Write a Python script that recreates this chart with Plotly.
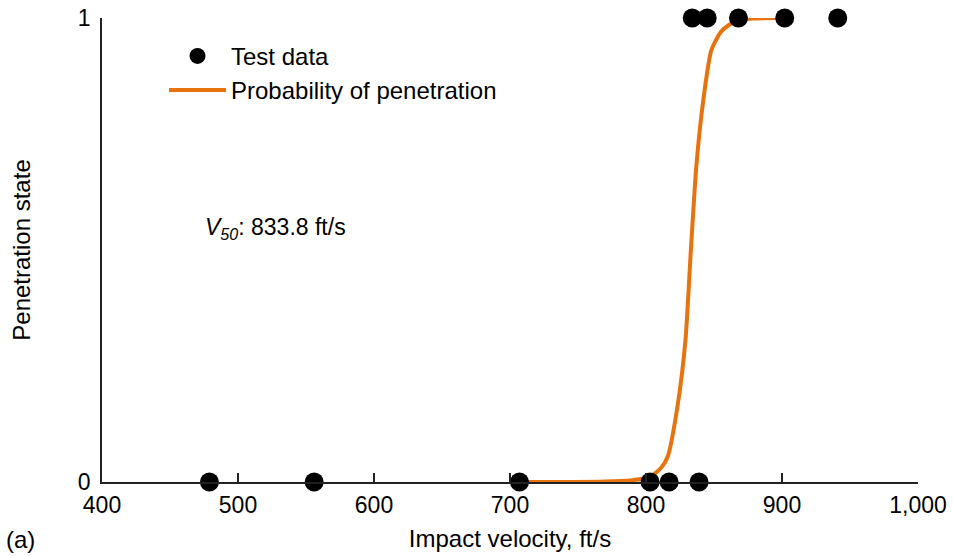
import plotly.graph_objects as go

# Test data (impact velocity, ft/s ; penetration state)
test_velocity = [479, 556, 707, 803, 817, 839, 834, 845, 868, 902, 941]
test_state = [0, 0, 0, 0, 0, 0, 1, 1, 1, 1, 1]

# Probability of penetration curve
curve_velocity = [700, 740, 770, 790, 800, 805, 811, 816, 823, 829, 833, 837, 842, 848, 855, 861, 868, 878, 897]
curve_prob = [0.0, 0.0, 0.001, 0.004, 0.008, 0.015, 0.03, 0.055, 0.16, 0.305, 0.50, 0.68, 0.82, 0.93, 0.97, 0.985, 0.995, 0.999, 1.0]

x_ticks = [400, 500, 600, 700, 800, 900, 1000]
y_ticks = [0, 1]

FONT = "Liberation Sans, Arial, sans-serif"
ORANGE = "#E8730E"

fig = go.Figure()
fig.add_trace(go.Scatter(
    x=curve_velocity, y=curve_prob, mode="lines", name="Probability of penetration",
    line=dict(color=ORANGE, width=4, shape="spline", smoothing=0.6),
    legendgroup="b", legendrank=2, cliponaxis=False,
))
fig.add_trace(go.Scatter(
    x=test_velocity, y=test_state, mode="markers", name="Test data",
    marker=dict(color="black", size=19),
    legendgroup="a", legendrank=1, cliponaxis=False,
))

fig.update_layout(
    width=953, height=556,
    margin=dict(l=102, r=35, t=18, b=74),
    paper_bgcolor="white", plot_bgcolor="white",
    font=dict(family=FONT, size=23, color="black"),
    showlegend=True,
    legend=dict(
        x=0.076, y=0.966, xanchor="left", yanchor="top",
        bgcolor="rgba(0,0,0,0)", itemwidth=57, tracegroupgap=0,
        traceorder="grouped", font=dict(family=FONT, size=24),
    ),
    xaxis=dict(
        range=[400, 1000], tickvals=x_ticks, tickformat=",",
        showline=True, linecolor="#222", linewidth=1.5,
        ticks="inside", ticklen=9, tickcolor="#222", tickwidth=1.5,
        ticklabelstandoff=2, tickfont=dict(family=FONT, size=23),
        showgrid=False, zeroline=False, automargin=False,
        title=dict(text="Impact velocity, ft/s", standoff=13, font=dict(family=FONT, size=24)),
    ),
    yaxis=dict(
        range=[0, 1], tickvals=y_ticks,
        showline=True, linecolor="#222", linewidth=1.5,
        ticks="inside", ticklen=9, tickcolor="#222", tickwidth=1.5,
        ticklabelstandoff=5, tickfont=dict(family=FONT, size=23),
        showgrid=False, zeroline=False, automargin=False,
        title=dict(text="Penetration state", standoff=40, font=dict(family=FONT, size=24)),
    ),
    annotations=[
        dict(x=474.5, y=0.546, xref="x", yref="y", xanchor="left", yanchor="middle",
             text="<i>V<sub>50</sub></i>: 833.8 ft/s", showarrow=False,
             font=dict(family=FONT, size=23)),
        dict(x=-0.1, y=-0.123, xref="paper", yref="paper", xanchor="center", yanchor="middle",
             text="(a)", showarrow=False, font=dict(family=FONT, size=24)),
    ],
)

fig.write_html("out.html")
